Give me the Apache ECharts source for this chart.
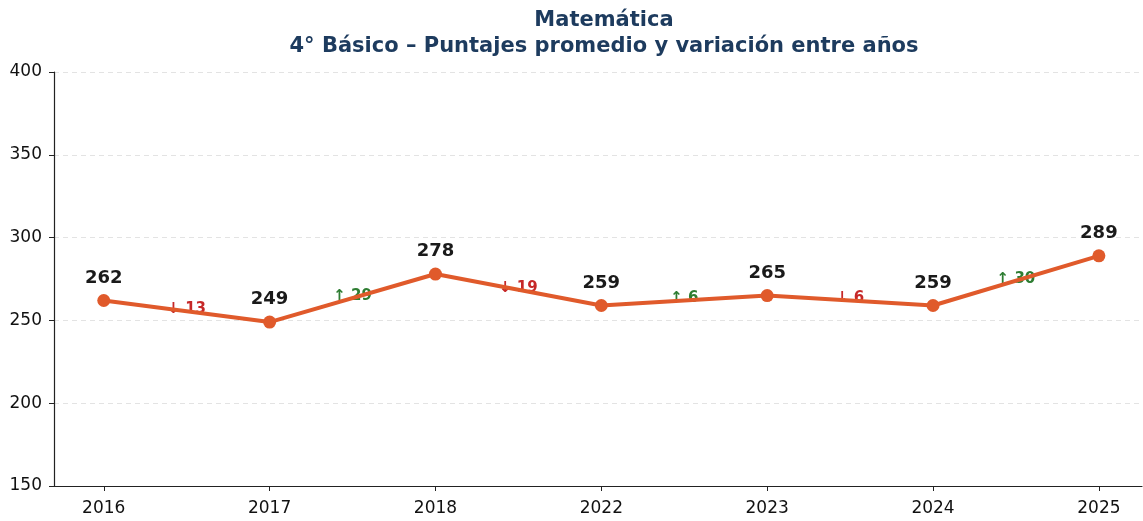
<!DOCTYPE html>
<html style="height: 100%">
<head>
    <meta charset="utf-8">
</head>
<body style="height: 100%; margin: 0; background: #fff">
    <div id="main" style="width: 1143px; height: 521px"></div>
    <script src="https://cdn.jsdelivr.net/npm/echarts@6/dist/echarts.min.js"></script>
    <script type="text/javascript">
        var years = ['2016', '2017', '2018', '2022', '2023', '2024', '2025'];
        var scores = [262, 249, 278, 259, 265, 259, 289];
        var yTicks = [150, 200, 250, 300, 350, 400];

        var chart = echarts.init(document.getElementById('main'));

        var lineData = scores.map(function (v, i) { return [i, v]; });
        var xPos = years.map(function (y, i) { return i; });

        // variation between consecutive years, placed at the midpoint
        var deltaData = [];
        for (var i = 1; i < scores.length; i++) {
            var d = scores[i] - scores[i - 1];
            deltaData.push({
                value: [i - 0.5, (scores[i] + scores[i - 1]) / 2],
                label: {
                    formatter: (d >= 0 ? '\u2191 ' : '\u2193 ') + Math.abs(d),
                    color: d >= 0 ? '#2e7d32' : '#c62828'
                }
            });
        }

        var font = 'DejaVu Sans';

        chart.setOption({
            animation: false,
            title: {
                text: 'Matemática\n4° Básico – Puntajes promedio y variación entre años',
                left: 599,
                textAlign: 'center',
                top: 3,
                textStyle: {
                    fontFamily: font,
                    fontSize: 21,
                    fontWeight: 'bold',
                    color: '#1d3b5e',
                    lineHeight: 26
                }
            },
            grid: { left: 54, right: 1, top: 72, bottom: 35 },
            xAxis: {
                type: 'value',
                min: -0.3,
                max: 6.26,
                splitLine: { show: false },
                axisLine: { show: true, onZero: false, lineStyle: { color: '#222', width: 1.2 } },
                axisLabel: {
                    fontFamily: font,
                    fontSize: 17,
                    color: '#111',
                    margin: 14,
                    customValues: xPos,
                    formatter: function (v) { return years[Math.round(v)] || ''; }
                },
                axisTick: { show: true, length: 5, lineStyle: { color: '#222' }, customValues: xPos }
            },
            yAxis: {
                type: 'value',
                min: yTicks[0],
                max: yTicks[yTicks.length - 1],
                interval: 50,
                axisLine: { show: true, onZero: false, lineStyle: { color: '#222', width: 1.2 } },
                axisTick: { show: true, length: 5, lineStyle: { color: '#222' } },
                axisLabel: { fontFamily: font, fontSize: 17, color: '#111', margin: 12, padding: [6, 0, 0, 0] },
                splitLine: { show: true, lineStyle: { color: '#e3e3e3', type: [5, 4], width: 1 } }
            },
            series: [
                {
                    type: 'scatter',
                    z: 1,
                    symbolSize: 1,
                    itemStyle: { opacity: 0 },
                    silent: true,
                    data: deltaData,
                    label: {
                        show: true,
                        position: 'inside',
                        offset: [0, -2],
                        fontFamily: font,
                        fontSize: 15,
                        fontWeight: 'bold',
                        opacity: 1
                    }
                },
                {
                    type: 'line',
                    z: 3,
                    data: lineData,
                    symbol: 'circle',
                    symbolSize: 13,
                    lineStyle: { color: '#e05a2b', width: 4 },
                    itemStyle: { color: '#e05a2b' },
                    label: {
                        show: true,
                        position: 'top',
                        distance: 7,
                        fontFamily: font,
                        fontSize: 18,
                        fontWeight: 'bold',
                        color: '#1a1a1a',
                        formatter: function (p) { return p.value[1]; }
                    }
                }
            ]
        });
    </script>
</body>
</html>
